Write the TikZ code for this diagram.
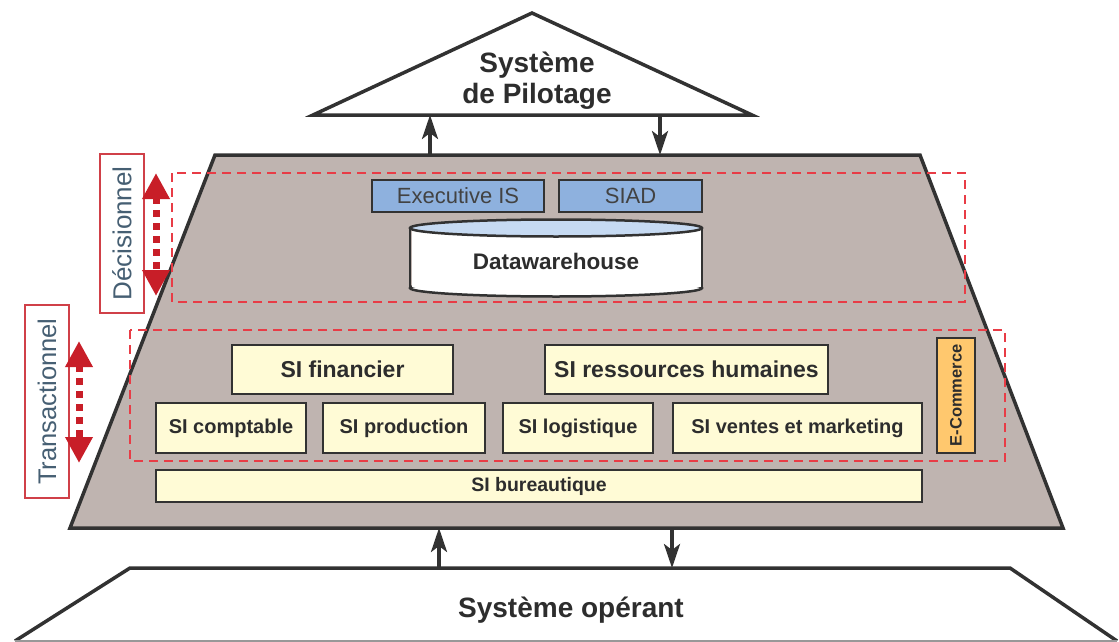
\documentclass[tikz,border=0pt]{standalone}
\usepackage{fontspec}
\setmainfont{Liberation Sans}
\usetikzlibrary{arrows.meta}
\definecolor{trap}{RGB}{191,180,176}
\definecolor{outl}{RGB}{50,50,50}
\definecolor{siyel}{RGB}{255,251,214}
\definecolor{siblue}{RGB}{142,177,222}
\definecolor{cylblue}{RGB}{198,218,242}
\definecolor{ecom}{RGB}{255,200,110}
\definecolor{dred}{RGB}{232,60,70}
\definecolor{ared}{RGB}{200,30,40}
\definecolor{lblc}{RGB}{70,95,115}
\definecolor{txt}{RGB}{45,45,45}
\newcommand{\myfs}[2]{\fontsize{#1}{#2}\selectfont}
\begin{document}
\begin{tikzpicture}[x=1pt,y=-1pt,
  shapeline/.style={draw=outl, line width=3.5pt, line join=miter},
  sibox/.style={draw=outl, fill=siyel, line width=1.3pt, inner sep=0pt, text=txt, font=\bfseries\myfs{23}{27}},
  sibox2/.style={sibox, font=\bfseries\myfs{20}{24}},
  bluebox/.style={draw=outl, fill=siblue, line width=1.3pt, inner sep=0pt, text=txt!90, font=\myfs{22}{26}},
  dashbox/.style={draw=dred, line width=1.4pt, dash pattern=on 9pt off 6pt},
  lblbox/.style={draw=ared!85, fill=white, line width=1.3pt, inner sep=0pt},
  lbltext/.style={rotate=90, font=\myfs{25.5}{30}, text=lblc},
  blackarr/.style={draw=outl, line width=3.5pt, -{Stealth[length=24pt 0 0,width=16pt 0 0,inset=6pt 0 0]}},
  redarr/.style={draw=ared, line width=7pt, dash pattern=on 7pt off 6pt,
     {Triangle[length=26pt,width=26pt]}-{Triangle[length=26pt,width=26pt]}}
]
\useasboundingbox (0,0) rectangle (1119,642);

% central trapezoid
\filldraw[fill=trap, shapeline] (215,155) -- (920,155) -- (1063,528) -- (70,528) -- cycle;

% Systeme de pilotage (triangle)
\filldraw[fill=white, shapeline] (532,13) -- (752,115) -- (313,115) -- cycle;
\node[font=\bfseries\myfs{28}{31}, text=txt, align=center] (pilot) at (537,81) {Système\\de Pilotage};

% Systeme operant
\filldraw[fill=white, shapeline] (15,641) -- (130,568) -- (1010,568) -- (1117,641);
\draw[outl!50, line width=1.5pt] (15,641) -- (1117,641);
\node[font=\bfseries\myfs{28}{31}, text=txt, anchor=base] (operant) at (571,617) {Système opérant};

% link coordinates
\coordinate (tA) at (430,155); \coordinate (pA) at (430,115);
\coordinate (pB) at (660,115); \coordinate (tB) at (660,155);
\coordinate (tC) at (672,528); \coordinate (oC) at (672,568);
\coordinate (oD) at (439,568); \coordinate (tD) at (439,528);
\draw[blackarr] (tA) -- (pA);
\draw[blackarr] (pB) -- (tB);
\draw[blackarr] (tC) -- (oC);
\draw[blackarr] (oD) -- (tD);

% dashed zones
\draw[dashbox] (172,173) rectangle (965,302);
\draw[dashbox] (130,330) rectangle (1005,461);

% decisionnel
\node[bluebox, minimum width=172, minimum height=32] (exec) at (458,196) {Executive IS};
\node[bluebox, minimum width=143, minimum height=32] (siad) at (630.5,196) {SIAD};
% datawarehouse cylinder
\filldraw[fill=white, draw=outl, line width=2.5pt] (556,288) ellipse [x radius=146, y radius=8.5];
\fill[white] (411.5,228) rectangle (700.5,287);
\draw[outl, line width=2.5pt] (410,228) -- (410,288) (702,228) -- (702,288);
\filldraw[fill=cylblue, draw=outl, line width=2.5pt] (556,228) ellipse [x radius=146, y radius=8.5];
\node[font=\bfseries\myfs{22.5}{26}, text=txt] (dw) at (556,261) {Datawarehouse};

% transactionnel
\node[sibox, minimum width=221, minimum height=49] (fin) at (342.5,369.5) {SI financier};
\node[sibox, minimum width=283, minimum height=49] (rh) at (686.5,369.5) {SI ressources humaines};
\node[sibox2, minimum width=150, minimum height=50] (compt) at (231,428) {SI comptable};
\node[sibox2, minimum width=162, minimum height=50] (prod) at (404,428) {SI production};
\node[sibox2, minimum width=150, minimum height=50] (log) at (578,428) {SI logistique};
\node[sibox2, minimum width=249, minimum height=50] (vente) at (797.5,428) {SI ventes et marketing};
\node[draw=outl, fill=ecom, line width=1.3pt, inner sep=0pt, minimum width=38, minimum height=115] (ecom) at (956,395.5) {};
\node[rotate=90, font=\bfseries\myfs{16.5}{19}, text=txt] (ecomt) at (ecom.center) {E-Commerce};
\node[sibox, minimum width=766, minimum height=32, font=\bfseries\myfs{19.5}{22}] (bur) at (539,486) {SI bureautique};

% side labels
\node[lblbox, minimum width=44, minimum height=159] (dec) at (122,233.5) {};
\node[lbltext, font=\myfs{26}{30}] (dect) at (dec.center) {Décisionnel};
\node[lblbox, minimum width=44, minimum height=193] (tra) at (47,401.5) {};
\node[lbltext] (trat) at (tra.center) {Transactionnel};

% red double arrows
\coordinate (dU) at (156,173); \coordinate (dL) at (156,296);
\coordinate (tU) at (79,341); \coordinate (tL) at (79,463);
\draw[redarr] (dU) -- (dL);
\draw[redarr] (tU) -- (tL);
\end{tikzpicture}
\end{document}
